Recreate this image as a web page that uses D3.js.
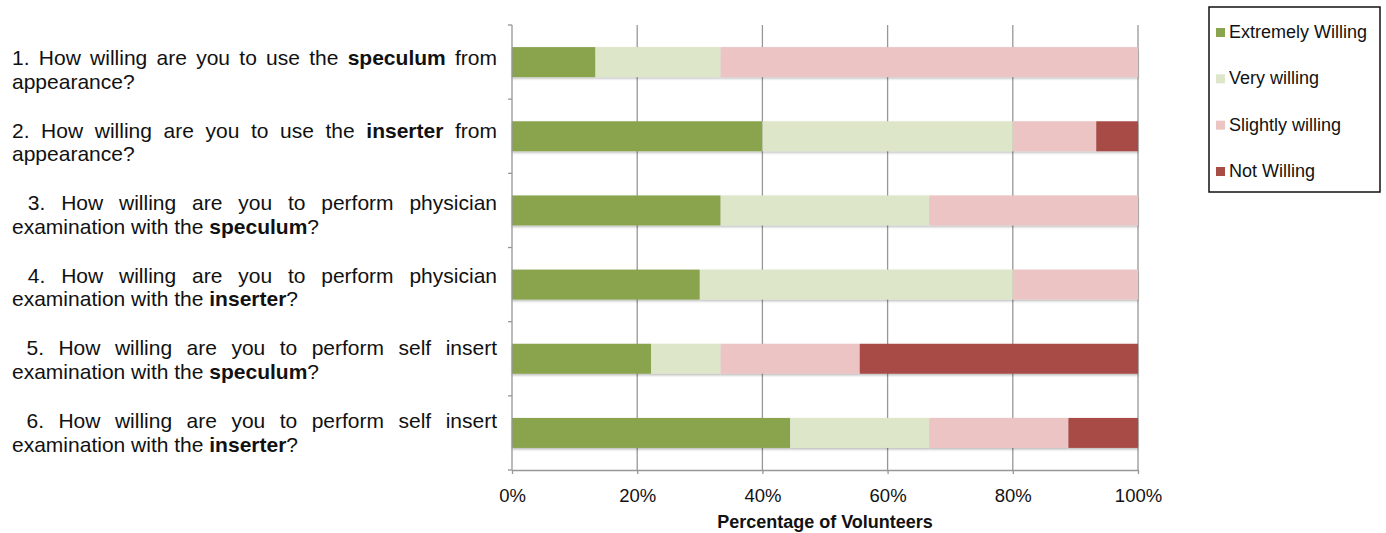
<!DOCTYPE html>
<html>
<head>
<meta charset="utf-8">
<script src="https://cdn.jsdelivr.net/npm/d3@7"></script>
<style>
  html, body { margin: 0; padding: 0; background: #fff; }
  svg { display: block; font-family: "Liberation Sans", Arial, sans-serif; }
</style>
</head>
<body>
<svg id="chart" width="1386" height="533"></svg>
<script>
// Survey questions; "|" splits the two lines, **word** is set in bold.
const questions = [
  "1. How willing are you to use the **speculum** from|appearance?",
  "2. How willing are you to use the **inserter** from|appearance?",
  " 3. How willing are you to perform physician|examination with the **speculum**?",
  " 4. How willing are you to perform physician|examination with the **inserter**?",
  " 5. How willing are you to perform self insert|examination with the **speculum**?",
  " 6. How willing are you to perform self insert|examination with the **inserter**?"
];

// Response categories and their shares (%) for each question
const responses = ["Extremely Willing", "Very willing", "Slightly willing", "Not Willing"];
const extremelyWilling = [13.33, 40.00, 33.33, 30.00, 22.22, 44.44];
const veryWilling      = [20.00, 40.00, 33.33, 50.00, 11.11, 22.22];
const slightlyWilling  = [66.67, 13.33, 33.34, 20.00, 22.22, 22.22];
const notWilling       = [ 0.00,  6.67,  0.00,  0.00, 44.45, 11.12];

const xTicks = [0, 0.2, 0.4, 0.6, 0.8, 1];
const xTitle = "Percentage of Volunteers";

const colors = ["#8aa44e", "#dde6c9", "#ecc4c4", "#a84c46"];

// Table built from the arrays above
const rows = questions.map((q, i) => ({
  q,
  "Extremely Willing": extremelyWilling[i],
  "Very willing": veryWilling[i],
  "Slightly willing": slightlyWilling[i],
  "Not Willing": notWilling[i]
}));

const svg = d3.select("#chart");
const plot = { left: 512, right: 1138, top: 25, bottom: 470 };

const x = d3.scaleLinear().domain([0, 1]).range([plot.left, plot.right]);
const y = d3.scaleBand().domain(questions).range([plot.top, plot.bottom])
  .paddingInner(0.596).paddingOuter(0.298);
const color = d3.scaleOrdinal().domain(responses).range(colors);

const series = d3.stack().keys(responses).offset(d3.stackOffsetExpand)(rows);

// soft shadow under the bars
const defs = svg.append("defs");
const f = defs.append("filter").attr("id", "shadow")
  .attr("x", "-5%").attr("y", "-20%").attr("width", "110%").attr("height", "160%");
f.append("feDropShadow").attr("dx", 0).attr("dy", 1.5).attr("stdDeviation", 1)
  .attr("flood-color", "#000").attr("flood-opacity", 0.28);

// vertical gridlines
svg.append("g").selectAll("line").data(xTicks.slice(1)).join("line")
  .attr("x1", d => x(d)).attr("x2", d => x(d))
  .attr("y1", plot.top).attr("y2", plot.bottom)
  .attr("stroke", "#979797").attr("stroke-width", 1.3);

// stacked bars
svg.append("g").attr("filter", "url(#shadow)")
  .selectAll("g").data(series).join("g")
  .attr("fill", d => color(d.key))
  .selectAll("rect").data(d => d).join("rect")
  .attr("x", d => x(d[0]))
  .attr("width", d => Math.max(0, x(d[1]) - x(d[0])))
  .attr("y", d => y(d.data.q))
  .attr("height", y.bandwidth());

// x axis
const xAxis = svg.append("g").attr("transform", `translate(0,${plot.bottom})`)
  .call(d3.axisBottom(x).tickValues(xTicks).tickFormat(d3.format(".0%"))
    .tickSizeInner(4).tickSizeOuter(0).tickPadding(15));
xAxis.select(".domain").attr("stroke", "#979797").attr("stroke-width", 1.3);
xAxis.selectAll(".tick line").attr("stroke", "#979797").attr("stroke-width", 1.3);
xAxis.selectAll(".tick text").attr("font-size", 18.5).attr("fill", "#111")
  .attr("font-family", "Liberation Sans, Arial, sans-serif");

// y axis: line with ticks at the category boundaries
const bounds = questions.map(q => y(q) - y.step() * y.paddingOuter()).concat([plot.bottom]);
const yAxis = svg.append("g");
yAxis.append("line").attr("x1", plot.left).attr("x2", plot.left)
  .attr("y1", plot.top).attr("y2", plot.bottom)
  .attr("stroke", "#979797").attr("stroke-width", 1.3);
yAxis.selectAll("line.tk").data(bounds).join("line").attr("class", "tk")
  .attr("x1", plot.left - 4).attr("x2", plot.left)
  .attr("y1", d => d).attr("y2", d => d)
  .attr("stroke", "#979797").attr("stroke-width", 1.3);

// x axis title
svg.append("text")
  .attr("x", (plot.left + plot.right) / 2).attr("y", 528)
  .attr("text-anchor", "middle").attr("font-size", 18).attr("font-weight", "bold")
  .attr("fill", "#111").text(xTitle);

// question labels: first line justified, second line left aligned
const labelLeft = 12, labelRight = 497, lineGap = 23.5, fontSize = 21;
const labelY = d3.scalePoint().domain(questions).range([65, 428]);

function tokens(line) {
  // split into words keeping bold markers
  return line.split(" ").map(w => {
    const parts = [];
    const re = /\*\*(.+?)\*\*/g;
    let last = 0, m;
    while ((m = re.exec(w)) !== null) {
      if (m.index > last) parts.push({ t: w.slice(last, m.index), b: false });
      parts.push({ t: m[1], b: true });
      last = re.lastIndex;
    }
    if (last < w.length) parts.push({ t: w.slice(last), b: false });
    return parts;
  });
}

const labels = svg.append("g").attr("font-size", fontSize).attr("fill", "#111");
questions.forEach(q => {
  const [l1, l2] = q.split("|");
  const base = labelY(q);

  // justified first line
  const words = tokens(l1);
  const wordEls = words.map(parts => {
    const t = labels.append("text").attr("y", base);
    parts.forEach(p => t.append("tspan").attr("font-weight", p.b ? "bold" : null).text(p.t));
    return t;
  });
  const widths = wordEls.map(t => t.node().getComputedTextLength());
  const gap = (labelRight - labelLeft - d3.sum(widths)) / (words.length - 1);
  let cx = labelLeft;
  wordEls.forEach((t, i) => { t.attr("x", cx); cx += widths[i] + gap; });

  // second line
  const t2 = labels.append("text").attr("x", labelLeft).attr("y", base + lineGap);
  tokens(l2).forEach((parts, i) => {
    parts.forEach((p, j) => {
      t2.append("tspan").attr("font-weight", p.b ? "bold" : null)
        .text((i > 0 && j === 0 ? " " : "") + p.t);
    });
  });
});

// legend
const legend = svg.append("g");
legend.append("rect").attr("x", 1209).attr("y", 7).attr("width", 171).attr("height", 185)
  .attr("fill", "#fff").attr("stroke", "#111").attr("stroke-width", 1.5);
const legY = d3.scalePoint().domain(responses).range([38, 177]);
const item = legend.selectAll("g.item").data(responses).join("g").attr("class", "item");
item.append("rect").attr("x", 1216).attr("y", d => legY(d) - 10)
  .attr("width", 9).attr("height", 9).attr("fill", d => color(d));
item.append("text").attr("x", 1229).attr("y", d => legY(d))
  .attr("font-size", 18).attr("fill", "#111").text(d => d);
</script>
</body>
</html>
